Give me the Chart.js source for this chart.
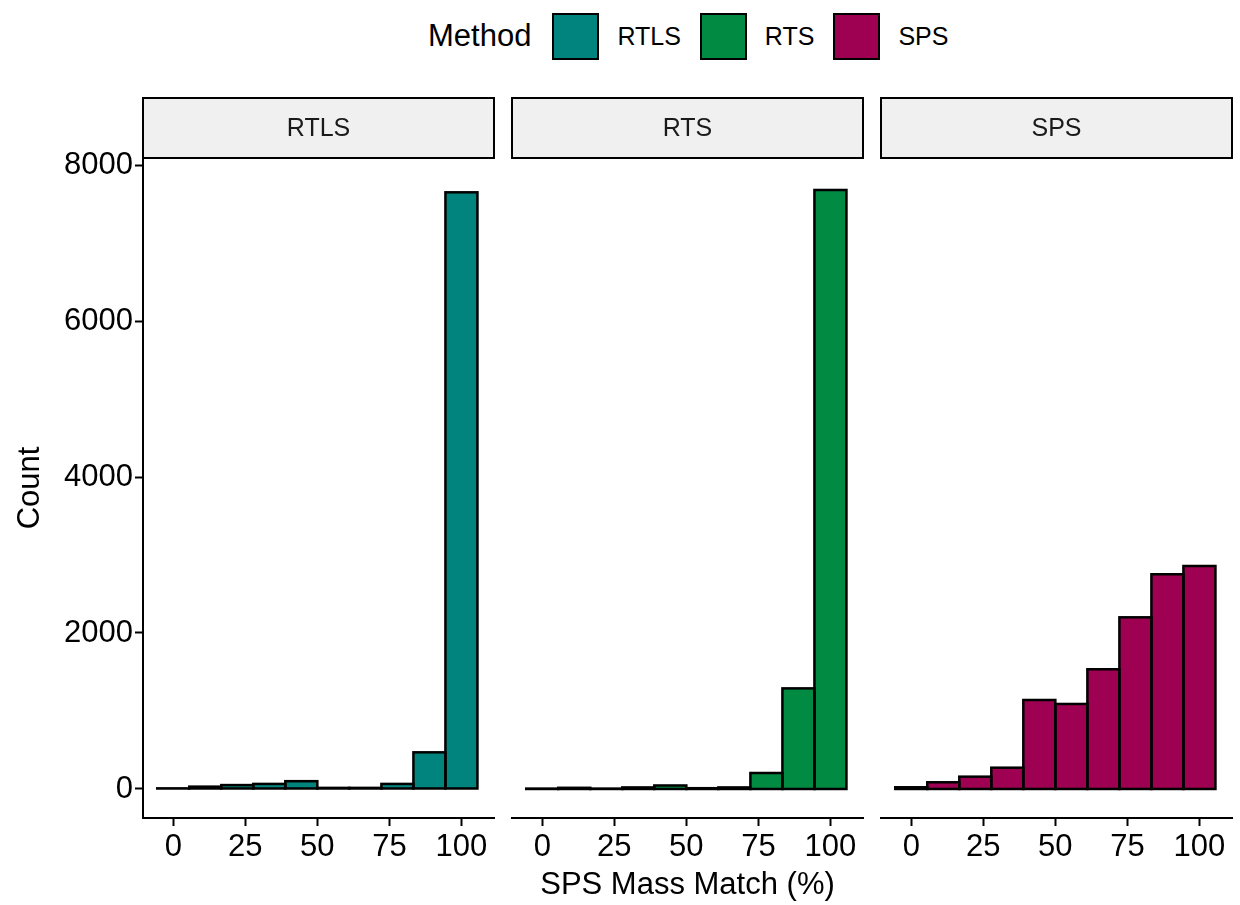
<!DOCTYPE html>
<html lang="en">
  <head>
    <meta charset="UTF-8" />
    <script src="https://cdn.jsdelivr.net/npm/chart.js@4.4.0/dist/chart.umd.min.js"></script>
    <title>SPS Mass Match</title>
    <style>
      body{
        margin: 0;
        width: 1240px;
        height: 905px;
        background: #fff;
        position: relative;
        overflow: hidden;
        font-family: "Liberation Sans", Arial, sans-serif;
      }
      .panel{
        position: absolute;
        top: 90px;
        height: 815px;
      }
      #legend{
        position: absolute;
        left: 428px;
        top: 12px;
        height: 48px;
        display: flex;
        align-items: center;
        color: #000;
        white-space: nowrap;
      }
      #legend .title{ font-size: 31px; margin-right: 21px; }
      #legend .key{
        width: 43px;
        height: 43px;
        border: 2px solid #000;
        box-sizing: content-box;
      }
      #legend .lab{ font-size: 25px; margin: 0 19px 0 18px; }
    </style>
  </head>
  <body>
    <div id="legend"></div>

    <div class="panel" style="left:0px; width:500px"><canvas id="c1"></canvas></div>
    <div class="panel" style="left:506px; width:363px"><canvas id="c2"></canvas></div>
    <div class="panel" style="left:875px; width:363px"><canvas id="c3"></canvas></div>

    <script>
      // histogram bins (SPS Mass Match %), bin width 100/9
      const binCenters = [0, 11.11, 22.22, 33.33, 44.44, 55.56, 66.67, 77.78, 88.89, 100];
      const rtlsCounts = [8, 30, 50, 65, 100, 14, 14, 65, 470, 7650];
      const rtsCounts = [5, 15, 5, 20, 45, 10, 20, 205, 1290, 7680];
      const spsCounts = [22, 86, 158, 273, 1141, 1090, 1535, 2201, 2753, 2859];

      const methods = ["RTLS", "RTS", "SPS"];
      const colors = ["#00847D", "#008A42", "#9E0052"];
      const xTicks = [0, 25, 50, 75, 100];
      const countTicks = [0, 2000, 4000, 6000, 8000];

      const FONT = "'Liberation Sans', Arial, sans-serif";

      // legend
      const legend = document.getElementById("legend");
      let html = '<span class="title">Method</span>';
      methods.forEach((m, i) => {
        html += '<span class="key" style="background:' + colors[i] + '"></span>';
        html += '<span class="lab">' + m + '</span>';
      });
      legend.innerHTML = html;

      // draws the facet strip + bar outlines (ggplot style)
      const facetPlugin = {
        id: "facet",
        beforeDraw(chart, args, opts) {
          const ctx = chart.ctx;
          const a = chart.chartArea;
          ctx.save();
          ctx.fillStyle = "#F0F0F0";
          ctx.fillRect(a.left, a.top - 60, a.right - a.left, 60);
          ctx.strokeStyle = "#000";
          ctx.lineWidth = 2;
          ctx.strokeRect(a.left, a.top - 60, a.right - a.left, 60);
          ctx.fillStyle = "#1a1a1a";
          ctx.font = "25px " + FONT;
          ctx.textAlign = "center";
          ctx.textBaseline = "middle";
          ctx.fillText(opts.label, (a.left + a.right) / 2, a.top - 29);
          ctx.restore();
        },
        afterDatasetsDraw(chart) {
          const ctx = chart.ctx;
          const meta = chart.getDatasetMeta(0);
          ctx.save();
          ctx.strokeStyle = "#000";
          ctx.lineWidth = 2.5;
          meta.data.forEach(bar => {
            const p = bar.getProps(["x", "y", "base", "width"], true);
            ctx.strokeRect(p.x - p.width / 2, p.y, p.width, p.base - p.y);
          });
          ctx.restore();
        }
      };

      function makeChart(id, idx, counts, first) {
        return new Chart(document.getElementById(id), {
          type: "bar",
          data: {
            datasets: [{
              label: methods[idx],
              data: binCenters.map((c, i) => ({ x: c, y: counts[i] })),
              backgroundColor: colors[idx],
              borderWidth: 0,
              barPercentage: 1,
              categoryPercentage: 1
            }]
          },
          options: {
            responsive: true,
            maintainAspectRatio: false,
            animation: false,
            layout: { padding: { top: 68, right: 6, left: first ? 0 : 6, bottom: 0 } },
            plugins: {
              legend: { display: false },
              tooltip: { enabled: false },
              facet: { label: methods[idx] }
            },
            scales: {
              x: {
                type: "linear",
                offset: false,
                min: -10.5,
                max: 111.3,
                afterBuildTicks: s => { s.ticks = xTicks.map(v => ({ value: v })); },
                afterFit: s => { s.height = 87; },
                grid: { offset: false, drawOnChartArea: false, drawTicks: true, tickLength: 8, tickColor: "#000", tickWidth: 2 },
                border: { display: true, color: "#000", width: 2 },
                ticks: { color: "#000", font: { size: 31, family: FONT }, padding: 3, maxRotation: 0, autoSkip: false },
                title: {
                  display: idx === 1,
                  text: "SPS Mass Match (%)",
                  color: "#000",
                  font: { size: 31, family: FONT },
                  padding: { top: 0, bottom: 1 }
                }
              },
              y: {
                display: first,
                min: -372,
                max: 8090,
                afterBuildTicks: s => { s.ticks = countTicks.map(v => ({ value: v })); },
                afterFit: s => { s.width = first ? 143 : 0; },
                grid: { drawOnChartArea: false, drawTicks: true, tickLength: 8, tickColor: "#000", tickWidth: 2 },
                border: { display: true, color: "#000", width: 2 },
                ticks: { color: "#000", font: { size: 31, family: FONT }, padding: 2, callback: v => String(v) },
                title: {
                  display: true,
                  text: "Count",
                  color: "#000",
                  font: { size: 31, family: FONT },
                  padding: { top: 12, bottom: 0 }
                }
              }
            }
          },
          plugins: [facetPlugin]
        });
      }

      makeChart("c1", 0, rtlsCounts, true);
      makeChart("c2", 1, rtsCounts, false);
      makeChart("c3", 2, spsCounts, false);
    </script>
  </body>
</html>
